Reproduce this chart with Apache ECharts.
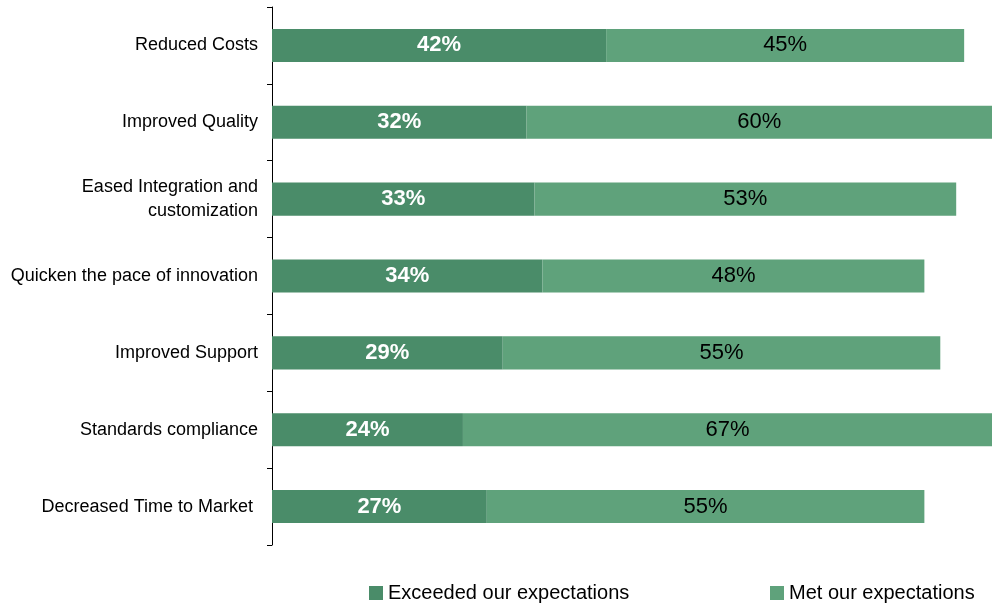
<!DOCTYPE html>
<html>
<head>
<meta charset="utf-8">
<script src="https://cdn.jsdelivr.net/npm/echarts@6/dist/echarts.min.js"></script>
<style>
  html, body { margin: 0; padding: 0; background: #fff; }
  #chart { width: 992px; height: 605px; }
</style>
</head>
<body>
<div id="chart"></div>
<script>
  // categories, top to bottom
  var categories = [
    'Reduced Costs',
    'Improved Quality',
    'Eased Integration and\ncustomization',
    'Quicken the pace of innovation',
    'Improved Support',
    'Standards compliance',
    'Decreased Time to Market '
  ];
  var exceeded = [42, 32, 33, 34, 29, 24, 27];
  var met = [45, 60, 53, 48, 55, 67, 55];

  var font = 'Liberation Sans, Arial, sans-serif';
  var legendText = { fontSize: 20, color: '#000', fontFamily: font };

  var chart = echarts.init(document.getElementById('chart'));
  var option = {
    animation: false,
    textStyle: { fontFamily: font },
    grid: { left: 272, right: 0, top: 7, bottom: 60 },
    legend: [{
      left: 369,
      top: 583,
      padding: 0,
      itemWidth: 14,
      itemHeight: 14,
      icon: 'rect',
      textStyle: legendText,
      data: ['Exceeded our expectations']
    }, {
      left: 770,
      top: 583,
      padding: 0,
      itemWidth: 14,
      itemHeight: 14,
      icon: 'rect',
      textStyle: legendText,
      data: ['Met our expectations']
    }],
    xAxis: {
      type: 'value',
      min: 0,
      max: 90.5,
      show: false
    },
    yAxis: {
      type: 'category',
      inverse: true,
      data: categories,
      axisLine: { show: true, lineStyle: { color: '#000', width: 1 } },
      axisTick: { show: true, length: 5, lineStyle: { color: '#000' } },
      axisLabel: {
        color: '#000',
        fontSize: 18,
        margin: 14,
        lineHeight: 24,
        fontFamily: font
      }
    },
    series: [{
      name: 'Exceeded our expectations',
      type: 'bar',
      stack: 'total',
      barCategoryGap: '57%',
      itemStyle: { color: '#4a8c69' },
      label: {
        show: true,
        position: 'inside',
        color: '#fff',
        fontWeight: 'bold',
        fontSize: 22,
        formatter: '{c}%'
      },
      data: exceeded
    }, {
      name: 'Met our expectations',
      type: 'bar',
      stack: 'total',
      barCategoryGap: '57%',
      itemStyle: { color: '#5fa27b' },
      label: {
        show: true,
        position: 'inside',
        color: '#000',
        fontSize: 22,
        formatter: '{c}%'
      },
      data: met
    }]
  };
  chart.setOption(option);
</script>
</body>
</html>
